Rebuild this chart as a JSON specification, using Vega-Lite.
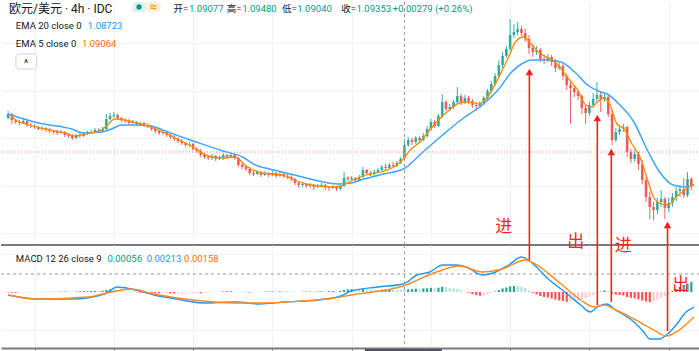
{
"$schema": "https://vega.github.io/schema/vega-lite/v6.json",
"padding": 0,
"background": "white",
"spacing": 0,
"bounds": "flush",
"config": {"view": {"stroke": null}, "font": "Roboto, Noto Sans CJK SC"},
"datasets": {
"bars": [
{"i":0,"o":1.09924,"h":1.10071,"l":1.09903,"c":1.10008,"m":-0.00013,"k":"r"},
{"i":1,"o":1.10008,"h":1.10029,"l":1.09798,"c":1.09882,"m":-0.00018,"k":"r"},
{"i":2,"o":1.09882,"h":1.09903,"l":1.09798,"c":1.0984,"m":-0.00021,"k":"r"},
{"i":3,"o":1.0984,"h":1.09882,"l":1.09777,"c":1.09819,"m":-0.00021,"k":"rl"},
{"i":4,"o":1.09819,"h":1.09903,"l":1.09798,"c":1.09861,"m":-0.00018,"k":"rl"},
{"i":5,"o":1.09861,"h":1.09882,"l":1.09735,"c":1.09777,"m":-0.00016,"k":"rl"},
{"i":6,"o":1.09777,"h":1.09819,"l":1.09714,"c":1.09756,"m":-0.00013,"k":"rl"},
{"i":7,"o":1.09756,"h":1.09798,"l":1.09693,"c":1.09735,"m":-0.00011,"k":"rl"},
{"i":8,"o":1.09735,"h":1.09756,"l":1.09672,"c":1.09693,"m":-0.00005,"k":"rl"},
{"i":9,"o":1.09693,"h":1.09756,"l":1.09651,"c":1.09714,"m":0.00005,"k":"g"},
{"i":10,"o":1.09714,"h":1.09735,"l":1.0963,"c":1.09672,"m":0.00008,"k":"g"},
{"i":11,"o":1.09672,"h":1.09714,"l":1.09609,"c":1.09651,"m":0.00008,"k":"gl"},
{"i":12,"o":1.09651,"h":1.09672,"l":1.09588,"c":1.0963,"m":0.00011,"k":"g"},
{"i":13,"o":1.0963,"h":1.09672,"l":1.09567,"c":1.09609,"m":0.00008,"k":"gl"},
{"i":14,"o":1.09609,"h":1.09672,"l":1.09588,"c":1.0963,"m":0.00011,"k":"g"},
{"i":15,"o":1.0963,"h":1.09651,"l":1.09525,"c":1.09567,"m":0.00013,"k":"g"},
{"i":16,"o":1.09567,"h":1.09609,"l":1.09504,"c":1.09546,"m":0.00013,"k":"gl"},
{"i":17,"o":1.09546,"h":1.09588,"l":1.09462,"c":1.09504,"m":0.00008,"k":"gl"},
{"i":18,"o":1.09504,"h":1.09588,"l":1.09483,"c":1.09567,"m":0.00013,"k":"g"},
{"i":19,"o":1.09567,"h":1.09609,"l":1.09504,"c":1.09546,"m":0.00018,"k":"g"},
{"i":20,"o":1.09546,"h":1.0963,"l":1.09525,"c":1.09588,"m":0.00021,"k":"g"},
{"i":21,"o":1.09588,"h":1.09651,"l":1.09567,"c":1.09609,"m":0.00024,"k":"g"},
{"i":22,"o":1.09609,"h":1.09672,"l":1.09588,"c":1.0963,"m":0.00026,"k":"g"},
{"i":23,"o":1.0963,"h":1.09714,"l":1.09609,"c":1.09672,"m":0.00029,"k":"g"},
{"i":24,"o":1.09672,"h":1.09714,"l":1.09609,"c":1.09651,"m":0.00029,"k":"gl"},
{"i":25,"o":1.09651,"h":1.09735,"l":1.0963,"c":1.09693,"m":0.00032,"k":"g"},
{"i":26,"o":1.09693,"h":1.10008,"l":1.09672,"c":1.09903,"m":0.00058,"k":"g"},
{"i":27,"o":1.09903,"h":1.10029,"l":1.09882,"c":1.09966,"m":0.00068,"k":"g"},
{"i":28,"o":1.09966,"h":1.1005,"l":1.09924,"c":1.09987,"m":0.00066,"k":"gl"},
{"i":29,"o":1.09987,"h":1.10008,"l":1.09882,"c":1.09924,"m":0.00053,"k":"gl"},
{"i":30,"o":1.09924,"h":1.09945,"l":1.0984,"c":1.09882,"m":0.00037,"k":"gl"},
{"i":31,"o":1.09882,"h":1.09924,"l":1.09819,"c":1.09861,"m":0.00024,"k":"gl"},
{"i":32,"o":1.09861,"h":1.09903,"l":1.09777,"c":1.09819,"m":0.00011,"k":"gl"},
{"i":33,"o":1.09819,"h":1.09882,"l":1.09798,"c":1.0984,"m":0.00003,"k":"gl"},
{"i":34,"o":1.0984,"h":1.09861,"l":1.09756,"c":1.09798,"m":-0.00011,"k":"r"},
{"i":35,"o":1.09798,"h":1.0984,"l":1.09756,"c":1.09819,"m":-0.00018,"k":"r"},
{"i":36,"o":1.09819,"h":1.0984,"l":1.09735,"c":1.09777,"m":-0.00024,"k":"r"},
{"i":37,"o":1.09777,"h":1.09819,"l":1.09714,"c":1.09756,"m":-0.00026,"k":"r"},
{"i":38,"o":1.09756,"h":1.09777,"l":1.09651,"c":1.09693,"m":-0.00032,"k":"r"},
{"i":39,"o":1.09693,"h":1.09735,"l":1.09609,"c":1.09651,"m":-0.00034,"k":"r"},
{"i":40,"o":1.09651,"h":1.09672,"l":1.09567,"c":1.09609,"m":-0.00037,"k":"r"},
{"i":41,"o":1.09609,"h":1.09672,"l":1.09567,"c":1.0963,"m":-0.00034,"k":"rl"},
{"i":42,"o":1.0963,"h":1.09651,"l":1.09525,"c":1.09567,"m":-0.00034,"k":"rl"},
{"i":43,"o":1.09567,"h":1.09588,"l":1.09483,"c":1.09525,"m":-0.00037,"k":"r"},
{"i":44,"o":1.09525,"h":1.09567,"l":1.09441,"c":1.09483,"m":-0.00039,"k":"r"},
{"i":45,"o":1.09483,"h":1.09525,"l":1.09399,"c":1.09441,"m":-0.00039,"k":"rl"},
{"i":46,"o":1.09441,"h":1.09483,"l":1.09357,"c":1.09399,"m":-0.00037,"k":"rl"},
{"i":47,"o":1.09399,"h":1.0942,"l":1.09315,"c":1.09357,"m":-0.00034,"k":"rl"},
{"i":48,"o":1.09357,"h":1.0942,"l":1.09315,"c":1.09378,"m":-0.00032,"k":"rl"},
{"i":49,"o":1.09378,"h":1.09399,"l":1.09231,"c":1.09273,"m":-0.00032,"k":"rl"},
{"i":50,"o":1.09273,"h":1.09315,"l":1.09189,"c":1.09231,"m":-0.00029,"k":"rl"},
{"i":51,"o":1.09231,"h":1.09273,"l":1.09105,"c":1.09147,"m":-0.00032,"k":"r"},
{"i":52,"o":1.09147,"h":1.09189,"l":1.09063,"c":1.09105,"m":-0.00029,"k":"rl"},
{"i":53,"o":1.09105,"h":1.09147,"l":1.09042,"c":1.09084,"m":-0.00024,"k":"rl"},
{"i":54,"o":1.09084,"h":1.09168,"l":1.09042,"c":1.09126,"m":-0.00016,"k":"rl"},
{"i":55,"o":1.09126,"h":1.09147,"l":1.09021,"c":1.09063,"m":-0.00011,"k":"rl"},
{"i":56,"o":1.09063,"h":1.09126,"l":1.09042,"c":1.09084,"m":0.00005,"k":"g"},
{"i":57,"o":1.09084,"h":1.09189,"l":1.09042,"c":1.09147,"m":0.00013,"k":"g"},
{"i":58,"o":1.09147,"h":1.09168,"l":1.09063,"c":1.09105,"m":0.00018,"k":"g"},
{"i":59,"o":1.09105,"h":1.09189,"l":1.09084,"c":1.09147,"m":0.00021,"k":"g"},
{"i":60,"o":1.09147,"h":1.09168,"l":1.09042,"c":1.09084,"m":0.00018,"k":"gl"},
{"i":61,"o":1.09084,"h":1.09105,"l":1.08895,"c":1.08937,"m":0.00005,"k":"gl"},
{"i":62,"o":1.08937,"h":1.08979,"l":1.08853,"c":1.08895,"m":-0.00003,"k":"r"},
{"i":63,"o":1.08895,"h":1.08937,"l":1.08811,"c":1.08853,"m":-0.00008,"k":"r"},
{"i":64,"o":1.08853,"h":1.08895,"l":1.08727,"c":1.08769,"m":-0.00013,"k":"r"},
{"i":65,"o":1.08769,"h":1.08811,"l":1.08706,"c":1.08748,"m":-0.00011,"k":"rl"},
{"i":66,"o":1.08748,"h":1.08832,"l":1.08727,"c":1.0879,"m":-0.00005,"k":"rl"},
{"i":67,"o":1.0879,"h":1.08811,"l":1.08685,"c":1.08727,"m":0.00005,"k":"g"},
{"i":68,"o":1.08727,"h":1.08811,"l":1.08706,"c":1.08769,"m":0.00011,"k":"g"},
{"i":69,"o":1.08769,"h":1.0879,"l":1.08685,"c":1.08727,"m":0.00013,"k":"g"},
{"i":70,"o":1.08727,"h":1.08811,"l":1.08706,"c":1.08769,"m":0.00016,"k":"g"},
{"i":71,"o":1.08769,"h":1.0879,"l":1.08664,"c":1.08706,"m":0.00016,"k":"gl"},
{"i":72,"o":1.08706,"h":1.0879,"l":1.08685,"c":1.08748,"m":0.00018,"k":"g"},
{"i":73,"o":1.08748,"h":1.08769,"l":1.08664,"c":1.08706,"m":0.00018,"k":"gl"},
{"i":74,"o":1.08706,"h":1.08748,"l":1.08643,"c":1.08685,"m":0.00016,"k":"gl"},
{"i":75,"o":1.08685,"h":1.08727,"l":1.08601,"c":1.08643,"m":0.00013,"k":"gl"},
{"i":76,"o":1.08643,"h":1.08664,"l":1.08517,"c":1.08559,"m":0.00005,"k":"gl"},
{"i":77,"o":1.08559,"h":1.08601,"l":1.08454,"c":1.08517,"m":0.00005,"k":"gl"},
{"i":78,"o":1.08517,"h":1.0858,"l":1.08475,"c":1.08538,"m":0.00008,"k":"g"},
{"i":79,"o":1.08538,"h":1.08559,"l":1.08454,"c":1.08496,"m":0.00011,"k":"g"},
{"i":80,"o":1.08496,"h":1.08559,"l":1.08454,"c":1.08517,"m":0.00013,"k":"g"},
{"i":81,"o":1.08517,"h":1.08538,"l":1.08412,"c":1.08475,"m":0.00013,"k":"gl"},
{"i":82,"o":1.08475,"h":1.08538,"l":1.08454,"c":1.08496,"m":0.00016,"k":"g"},
{"i":83,"o":1.08496,"h":1.08559,"l":1.08475,"c":1.08517,"m":0.00018,"k":"g"},
{"i":84,"o":1.08517,"h":1.08538,"l":1.08412,"c":1.08475,"m":0.00018,"k":"gl"},
{"i":85,"o":1.08475,"h":1.08496,"l":1.08391,"c":1.08454,"m":0.00021,"k":"g"},
{"i":86,"o":1.08454,"h":1.08517,"l":1.08433,"c":1.08475,"m":0.00024,"k":"g"},
{"i":87,"o":1.08475,"h":1.08496,"l":1.08391,"c":1.08433,"m":0.00024,"k":"gl"},
{"i":88,"o":1.08433,"h":1.08517,"l":1.08412,"c":1.08496,"m":0.00026,"k":"g"},
{"i":89,"o":1.08496,"h":1.0879,"l":1.08475,"c":1.08664,"m":0.00058,"k":"g"},
{"i":90,"o":1.08664,"h":1.08706,"l":1.08601,"c":1.08643,"m":0.00068,"k":"g"},
{"i":91,"o":1.08643,"h":1.08706,"l":1.08601,"c":1.08664,"m":0.00074,"k":"g"},
{"i":92,"o":1.08664,"h":1.08685,"l":1.0858,"c":1.08622,"m":0.00071,"k":"gl"},
{"i":93,"o":1.08622,"h":1.08727,"l":1.08601,"c":1.08685,"m":0.00066,"k":"gl"},
{"i":94,"o":1.08685,"h":1.08895,"l":1.08664,"c":1.08832,"m":0.00076,"k":"g"},
{"i":95,"o":1.08832,"h":1.08853,"l":1.08727,"c":1.08769,"m":0.00068,"k":"gl"},
{"i":96,"o":1.08769,"h":1.08811,"l":1.08706,"c":1.08748,"m":0.0006,"k":"gl"},
{"i":97,"o":1.08748,"h":1.08832,"l":1.08706,"c":1.0879,"m":0.00053,"k":"gl"},
{"i":98,"o":1.0879,"h":1.08874,"l":1.08769,"c":1.08832,"m":0.00053,"k":"gl"},
{"i":99,"o":1.08832,"h":1.08937,"l":1.08811,"c":1.08895,"m":0.00058,"k":"g"},
{"i":100,"o":1.08895,"h":1.08958,"l":1.08832,"c":1.08874,"m":0.0006,"k":"g"},
{"i":101,"o":1.08874,"h":1.08979,"l":1.08853,"c":1.08937,"m":0.00063,"k":"g"},
{"i":102,"o":1.08937,"h":1.09,"l":1.08874,"c":1.08916,"m":0.00063,"k":"gl"},
{"i":103,"o":1.08916,"h":1.09021,"l":1.08895,"c":1.08979,"m":0.0006,"k":"gl"},
{"i":104,"o":1.08979,"h":1.09105,"l":1.08958,"c":1.09063,"m":0.00058,"k":"gl"},
{"i":105,"o":1.09077,"h":1.0948,"l":1.0904,"c":1.09353,"m":0.00056,"k":"gl"},
{"i":106,"o":1.09357,"h":1.09525,"l":1.09315,"c":1.09462,"m":0.00071,"k":"g"},
{"i":107,"o":1.09462,"h":1.09504,"l":1.09357,"c":1.0942,"m":0.00076,"k":"g"},
{"i":108,"o":1.0942,"h":1.09546,"l":1.09378,"c":1.09504,"m":0.00087,"k":"g"},
{"i":109,"o":1.09504,"h":1.09546,"l":1.09399,"c":1.09462,"m":0.00084,"k":"gl"},
{"i":110,"o":1.09462,"h":1.09609,"l":1.09441,"c":1.09546,"m":0.00092,"k":"g"},
{"i":111,"o":1.09546,"h":1.09756,"l":1.09504,"c":1.09693,"m":0.00095,"k":"g"},
{"i":112,"o":1.09693,"h":1.09903,"l":1.09651,"c":1.0984,"m":0.0011,"k":"g"},
{"i":113,"o":1.0984,"h":1.09882,"l":1.09714,"c":1.09756,"m":0.001,"k":"gl"},
{"i":114,"o":1.09756,"h":1.10008,"l":1.09735,"c":1.09966,"m":0.00113,"k":"g"},
{"i":115,"o":1.09966,"h":1.10428,"l":1.09924,"c":1.1026,"m":0.00137,"k":"g"},
{"i":116,"o":1.1026,"h":1.10302,"l":1.10071,"c":1.10113,"m":0.00121,"k":"gl"},
{"i":117,"o":1.10113,"h":1.10218,"l":1.10071,"c":1.10155,"m":0.00105,"k":"gl"},
{"i":118,"o":1.10155,"h":1.10302,"l":1.10113,"c":1.1026,"m":0.00095,"k":"gl"},
{"i":119,"o":1.1026,"h":1.10575,"l":1.10218,"c":1.10386,"m":0.00084,"k":"gl"},
{"i":120,"o":1.10386,"h":1.10428,"l":1.10197,"c":1.1026,"m":0.00047,"k":"gl"},
{"i":121,"o":1.1026,"h":1.10407,"l":1.10218,"c":1.10344,"m":0.00011,"k":"gl"},
{"i":122,"o":1.10344,"h":1.10386,"l":1.10218,"c":1.10281,"m":-0.00021,"k":"r"},
{"i":123,"o":1.10281,"h":1.10323,"l":1.10134,"c":1.10197,"m":-0.00053,"k":"r"},
{"i":124,"o":1.10197,"h":1.1026,"l":1.10071,"c":1.10176,"m":-0.00084,"k":"r"},
{"i":125,"o":1.10176,"h":1.10281,"l":1.10134,"c":1.10239,"m":-0.001,"k":"r"},
{"i":126,"o":1.10239,"h":1.10386,"l":1.10197,"c":1.10344,"m":-0.00092,"k":"rl"},
{"i":127,"o":1.10344,"h":1.10533,"l":1.10302,"c":1.10491,"m":-0.00066,"k":"rl"},
{"i":128,"o":1.10491,"h":1.10701,"l":1.10449,"c":1.10638,"m":-0.00026,"k":"rl"},
{"i":129,"o":1.10638,"h":1.10869,"l":1.10596,"c":1.10806,"m":0.00013,"k":"g"},
{"i":130,"o":1.10806,"h":1.11142,"l":1.10764,"c":1.11037,"m":0.00053,"k":"g"},
{"i":131,"o":1.11037,"h":1.1131,"l":1.10974,"c":1.11226,"m":0.00092,"k":"g"},
{"i":132,"o":1.11226,"h":1.11436,"l":1.11184,"c":1.11373,"m":0.00118,"k":"g"},
{"i":133,"o":1.11373,"h":1.12003,"l":1.11331,"c":1.11667,"m":0.00145,"k":"g"},
{"i":134,"o":1.11667,"h":1.11898,"l":1.11604,"c":1.1173,"m":0.00158,"k":"g"},
{"i":135,"o":1.1173,"h":1.1194,"l":1.11667,"c":1.11793,"m":0.00153,"k":"gl"},
{"i":136,"o":1.11793,"h":1.11856,"l":1.11646,"c":1.11709,"m":0.00137,"k":"gl"},
{"i":137,"o":1.11709,"h":1.11793,"l":1.1152,"c":1.11583,"m":0.00105,"k":"gl"},
{"i":138,"o":1.11583,"h":1.11667,"l":1.11268,"c":1.11394,"m":0.00039,"k":"gl"},
{"i":139,"o":1.11394,"h":1.11478,"l":1.11205,"c":1.1131,"m":-0.00021,"k":"r"},
{"i":140,"o":1.1131,"h":1.11436,"l":1.11247,"c":1.11352,"m":-0.00066,"k":"r"},
{"i":141,"o":1.11352,"h":1.11394,"l":1.111,"c":1.11163,"m":-0.00105,"k":"r"},
{"i":142,"o":1.11163,"h":1.11247,"l":1.11058,"c":1.11142,"m":-0.00132,"k":"r"},
{"i":143,"o":1.11142,"h":1.11268,"l":1.111,"c":1.11205,"m":-0.00145,"k":"r"},
{"i":144,"o":1.11205,"h":1.11247,"l":1.11016,"c":1.111,"m":-0.00171,"k":"r"},
{"i":145,"o":1.111,"h":1.11163,"l":1.1089,"c":1.10974,"m":-0.00197,"k":"r"},
{"i":146,"o":1.10974,"h":1.111,"l":1.10932,"c":1.11016,"m":-0.00224,"k":"r"},
{"i":147,"o":1.11016,"h":1.11058,"l":1.10722,"c":1.10806,"m":-0.00237,"k":"r"},
{"i":148,"o":1.10806,"h":1.10848,"l":1.10512,"c":1.10617,"m":-0.00258,"k":"r"},
{"i":149,"o":1.10617,"h":1.1068,"l":1.09798,"c":1.10554,"m":-0.0025,"k":"rl"},
{"i":150,"o":1.10554,"h":1.10596,"l":1.10365,"c":1.1047,"m":-0.00237,"k":"rl"},
{"i":151,"o":1.1047,"h":1.10512,"l":1.10302,"c":1.10386,"m":-0.0021,"k":"rl"},
{"i":152,"o":1.10386,"h":1.10428,"l":1.10008,"c":1.10134,"m":-0.00184,"k":"rl"},
{"i":153,"o":1.10134,"h":1.10197,"l":1.09798,"c":1.10029,"m":-0.00171,"k":"rl"},
{"i":154,"o":1.10029,"h":1.1026,"l":1.09966,"c":1.10197,"m":-0.00132,"k":"rl"},
{"i":155,"o":1.10197,"h":1.10449,"l":1.10134,"c":1.10323,"m":-0.00092,"k":"rl"},
{"i":156,"o":1.10323,"h":1.1068,"l":1.1026,"c":1.10407,"m":-0.00047,"k":"rl"},
{"i":157,"o":1.10407,"h":1.1047,"l":1.1005,"c":1.10323,"m":0.00013,"k":"g"},
{"i":158,"o":1.10323,"h":1.10428,"l":1.1026,"c":1.10365,"m":0.00039,"k":"g"},
{"i":159,"o":1.10365,"h":1.10407,"l":1.09945,"c":1.10008,"m":0.00026,"k":"gl"},
{"i":160,"o":1.10008,"h":1.10092,"l":1.09357,"c":1.09462,"m":-0.00039,"k":"r"},
{"i":161,"o":1.09462,"h":1.09714,"l":1.0942,"c":1.0963,"m":-0.00066,"k":"r"},
{"i":162,"o":1.0963,"h":1.09756,"l":1.09567,"c":1.09693,"m":-0.00079,"k":"r"},
{"i":163,"o":1.09693,"h":1.09798,"l":1.0963,"c":1.09735,"m":-0.00092,"k":"r"},
{"i":164,"o":1.09735,"h":1.09756,"l":1.09105,"c":1.0921,"m":-0.00132,"k":"r"},
{"i":165,"o":1.0921,"h":1.09273,"l":1.08979,"c":1.09063,"m":-0.00153,"k":"r"},
{"i":166,"o":1.09063,"h":1.09252,"l":1.09,"c":1.09168,"m":-0.00171,"k":"r"},
{"i":167,"o":1.09168,"h":1.0921,"l":1.08832,"c":1.08958,"m":-0.00197,"k":"r"},
{"i":168,"o":1.08958,"h":1.09042,"l":1.08538,"c":1.08622,"m":-0.00224,"k":"r"},
{"i":169,"o":1.08622,"h":1.08685,"l":1.0816,"c":1.08265,"m":-0.0025,"k":"r"},
{"i":170,"o":1.08265,"h":1.0837,"l":1.07803,"c":1.08055,"m":-0.00263,"k":"r"},
{"i":171,"o":1.08055,"h":1.0816,"l":1.07782,"c":1.07992,"m":-0.00242,"k":"rl"},
{"i":172,"o":1.07992,"h":1.08244,"l":1.07908,"c":1.0816,"m":-0.0021,"k":"rl"},
{"i":173,"o":1.0816,"h":1.08412,"l":1.08055,"c":1.08223,"m":-0.00158,"k":"rl"},
{"i":174,"o":1.08223,"h":1.08265,"l":1.07803,"c":1.08034,"m":-0.00105,"k":"rl"},
{"i":175,"o":1.08034,"h":1.08244,"l":1.0795,"c":1.08139,"m":-0.00053,"k":"rl"},
{"i":176,"o":1.08139,"h":1.08349,"l":1.08055,"c":1.08265,"m":0.00026,"k":"g"},
{"i":177,"o":1.08265,"h":1.08475,"l":1.08181,"c":1.08391,"m":0.00079,"k":"g"},
{"i":178,"o":1.08391,"h":1.08517,"l":1.08265,"c":1.08433,"m":0.00132,"k":"g"},
{"i":179,"o":1.08433,"h":1.08664,"l":1.08244,"c":1.08307,"m":0.00184,"k":"g"},
{"i":180,"o":1.08307,"h":1.0879,"l":1.08265,"c":1.08643,"m":0.00224,"k":"g"},
{"i":181,"o":1.08643,"h":1.08685,"l":1.08412,"c":1.08517,"m":0.00263,"k":"g"}
],
"ema20": [
{"i":0,"p":1.10008},{"i":8,"p":1.09819},{"i":16.9,"p":1.09693},{"i":19.8,"p":1.09609},{"i":24.8,"p":1.0963},{"i":27.4,"p":1.09693},{"i":30,"p":1.09777},{"i":34.2,"p":1.09777},{"i":37.8,"p":1.09756},{"i":43,"p":1.09609},{"i":49.8,"p":1.0942},{"i":56.9,"p":1.09231},{"i":62.1,"p":1.09105},{"i":65.5,"p":1.08937},{"i":69.2,"p":1.08853},{"i":75.9,"p":1.08727},{"i":82.2,"p":1.08601},{"i":87.4,"p":1.08538},{"i":90.8,"p":1.08559},{"i":93.4,"p":1.08622},{"i":99.4,"p":1.08748},{"i":104.7,"p":1.08853},{"i":109.9,"p":1.0921},{"i":115.1,"p":1.09567},{"i":120.3,"p":1.09903},{"i":125.6,"p":1.10197},{"i":130,"p":1.10533},{"i":133.4,"p":1.1089},{"i":136,"p":1.11058},{"i":138.6,"p":1.11142},{"i":143.1,"p":1.11142},{"i":146.5,"p":1.111},{"i":150.1,"p":1.1089},{"i":153.5,"p":1.10617},{"i":157,"p":1.1047},{"i":158.7,"p":1.10428},{"i":162.1,"p":1.10197},{"i":165.8,"p":1.0984},{"i":169.2,"p":1.09273},{"i":172.6,"p":1.0879},{"i":176.2,"p":1.08517},{"i":179.6,"p":1.08475},{"i":181.7,"p":1.08517}
],
"ema5": [
{"i":0.7,"p":1.09987},{"i":2,"p":1.09882},{"i":4.65,"p":1.09798},{"i":9.9,"p":1.09693},{"i":15.1,"p":1.09609},{"i":17.7,"p":1.09546},{"i":20.3,"p":1.09588},{"i":24.2,"p":1.09651},{"i":26.3,"p":1.09777},{"i":28.2,"p":1.09903},{"i":30.8,"p":1.09882},{"i":34.2,"p":1.09819},{"i":38.6,"p":1.09714},{"i":43.8,"p":1.09525},{"i":49,"p":1.09315},{"i":53,"p":1.09126},{"i":56.9,"p":1.09084},{"i":60,"p":1.09105},{"i":63.4,"p":1.08895},{"i":67.3,"p":1.08769},{"i":72.6,"p":1.08727},{"i":76.5,"p":1.08601},{"i":80.4,"p":1.08517},{"i":85.6,"p":1.08475},{"i":88.2,"p":1.08496},{"i":90.8,"p":1.08601},{"i":94.8,"p":1.08727},{"i":98.7,"p":1.0879},{"i":102.6,"p":1.08916},{"i":104.7,"p":1.09063},{"i":106.5,"p":1.09252},{"i":109.1,"p":1.0942},{"i":111.7,"p":1.09672},{"i":114.3,"p":1.09903},{"i":116.9,"p":1.10092},{"i":119.6,"p":1.10239},{"i":122.2,"p":1.1026},{"i":124.8,"p":1.10218},{"i":127.4,"p":1.10407},{"i":130,"p":1.10785},{"i":132.6,"p":1.11205},{"i":134.4,"p":1.1152},{"i":136.5,"p":1.11625},{"i":138.6,"p":1.11478},{"i":140.5,"p":1.1131},{"i":143.1,"p":1.11184},{"i":145.7,"p":1.11037},{"i":148.3,"p":1.10764},{"i":150.9,"p":1.10512},{"i":153,"p":1.10197},{"i":154.8,"p":1.10155},{"i":156.1,"p":1.1026},{"i":157.9,"p":1.10344},{"i":159.5,"p":1.10197},{"i":161.3,"p":1.09798},{"i":163.2,"p":1.09693},{"i":165.3,"p":1.09378},{"i":167.4,"p":1.09105},{"i":169.2,"p":1.08685},{"i":171,"p":1.08265},{"i":173.1,"p":1.08118},{"i":174.9,"p":1.08097},{"i":177,"p":1.08265},{"i":179.6,"p":1.08433},{"i":181.7,"p":1.08538}
],
"macd": [
{"i":0,"v":-0.00079},{"i":7.3,"v":-0.00184},{"i":16.9,"v":-0.00184},{"i":25.5,"v":-0.00053},{"i":28.9,"v":0.00132},{"i":32.6,"v":0.00079},{"i":38.6,"v":-0.00079},{"i":44.6,"v":-0.00184},{"i":51.7,"v":-0.00289},{"i":60.3,"v":-0.00263},{"i":66.5,"v":-0.00316},{"i":73.3,"v":-0.00263},{"i":82.2,"v":-0.0021},{"i":88.2,"v":-0.00105},{"i":90.8,"v":0.00026},{"i":97.9,"v":0.00132},{"i":104.7,"v":0.0021},{"i":108.3,"v":0.00447},{"i":111.7,"v":0.00526},{"i":115.1,"v":0.0071},{"i":118.8,"v":0.0071},{"i":121.4,"v":0.00658},{"i":125.6,"v":0.00447},{"i":129.2,"v":0.00526},{"i":132.6,"v":0.0071},{"i":136,"v":0.00921},{"i":137.8,"v":0.00842},{"i":140.5,"v":0.00605},{"i":143.1,"v":0.00342},{"i":146.5,"v":0.00079},{"i":149.1,"v":-0.00132},{"i":151.7,"v":-0.00342},{"i":154.3,"v":-0.00526},{"i":156.1,"v":-0.00395},{"i":158.7,"v":-0.00316},{"i":160.5,"v":-0.00447},{"i":163.2,"v":-0.00605},{"i":165.8,"v":-0.00789},{"i":168.4,"v":-0.01052},{"i":170,"v":-0.01236},{"i":172.6,"v":-0.01236},{"i":174.4,"v":-0.01131},{"i":177,"v":-0.00868},{"i":179.6,"v":-0.00526},{"i":181.7,"v":-0.00395}
],
"sig": [
{"i":0,"v":-0.00079},{"i":8,"v":-0.00184},{"i":21.1,"v":-0.00132},{"i":27.4,"v":0},{"i":32.6,"v":0.00079},{"i":38.6,"v":-0.00053},{"i":49,"v":-0.0021},{"i":60.3,"v":-0.00289},{"i":67.3,"v":-0.00289},{"i":77.8,"v":-0.00237},{"i":86.4,"v":-0.00158},{"i":90.8,"v":-0.00079},{"i":104.7,"v":0.00158},{"i":113.5,"v":0.00526},{"i":119.6,"v":0.00684},{"i":125.6,"v":0.00526},{"i":130.8,"v":0.00605},{"i":137.1,"v":0.00842},{"i":139.7,"v":0.00736},{"i":146.5,"v":0.0021},{"i":151.7,"v":-0.0021},{"i":155.3,"v":-0.00395},{"i":157.9,"v":-0.00342},{"i":160.5,"v":-0.00447},{"i":165.8,"v":-0.0071},{"i":171,"v":-0.00999},{"i":174.4,"v":-0.01157},{"i":177.8,"v":-0.00999},{"i":181.7,"v":-0.00658}
]
},
"vconcat": [
{
"width": 699, "height": 243,
"layer": [
{"data": {"name": "bars"}, "mark": {"type": "rule", "strokeWidth": 1, "opacity": 0.9},
 "encoding": {
  "x": {"field": "i", "type": "quantitative", "scale": {"domain": [-0.574, 181.98], "nice": false, "zero": false}, "axis": {"title": null, "values": [7,28,49,70,91,112,133,154,175], "grid": true, "gridColor": "#EEF1F6", "domain": false, "ticks": false, "labels": false}},
  "y": {"field": "l", "type": "quantitative", "scale": {"domain": [1.07257, 1.1236], "nice": false, "zero": false}, "axis": {"title": null, "values": [1.075,1.08,1.085,1.09,1.095,1.1,1.105,1.11,1.115,1.12], "grid": true, "gridColor": "#EEF1F6", "domain": false, "ticks": false, "labels": false}},
  "y2": {"field": "h"},
  "color": {"condition": {"test": "datum.c >= datum.o", "value": "#26A69A"}, "value": "#EF5350"}
 }},
{"data": {"name": "bars"}, "mark": {"type": "bar", "size": 2.6, "opacity": 0.9},
 "encoding": {
  "x": {"field": "i", "type": "quantitative"},
  "y": {"field": "o", "type": "quantitative"},
  "y2": {"field": "c"},
  "color": {"condition": {"test": "datum.c >= datum.o", "value": "#26A69A"}, "value": "#EF5350"}
 }},
{"data": {"values": [{}]}, "mark": {"type": "rule", "color": "#F7525F", "strokeDash": [1, 2], "strokeWidth": 1, "opacity": 0.8},
 "encoding": {"y": {"datum": 1.0921, "type": "quantitative"}}},
{"data": {"values": [{}]}, "mark": {"type": "rule", "color": "#9598A1", "strokeDash": [3, 3], "strokeWidth": 1},
 "encoding": {"x": {"datum": 105, "type": "quantitative"}}},
{"data": {"name": "ema20"}, "mark": {"type": "line", "color": "#42A5F5", "strokeWidth": 1.5, "interpolate": "monotone"},
 "encoding": {"x": {"field": "i", "type": "quantitative"}, "y": {"field": "p", "type": "quantitative"}}},
{"data": {"name": "ema5"}, "mark": {"type": "line", "color": "#FB8C00", "strokeWidth": 1.3, "interpolate": "monotone"},
 "encoding": {"x": {"field": "i", "type": "quantitative"}, "y": {"field": "p", "type": "quantitative"}}},
{"data": {"values": [{}]}, "mark": {"type": "rule", "color": "#787B86", "strokeWidth": 2},
 "encoding": {"y": {"datum": 1.07257, "type": "quantitative"}}},
{"data": {"values": [{"i":138.1,"p1":1.07257,"p2":1.1089},{"i":156.1,"p1":1.07257,"p2":1.09924},{"i":159.8,"p1":1.07257,"p2":1.0921},{"i":174.7,"p1":1.07257,"p2":1.07677}]},
 "layer": [
  {"mark": {"type": "rule", "color": "#FF1E1E", "strokeWidth": 1.6},
   "encoding": {"x": {"field": "i", "type": "quantitative"}, "y": {"field": "p1", "type": "quantitative"}, "y2": {"field": "p2"}}},
  {"mark": {"type": "point", "shape": "triangle-up", "filled": true, "color": "#FF1E1E", "size": 55, "opacity": 1},
   "encoding": {"x": {"field": "i", "type": "quantitative"}, "y": {"field": "p2", "type": "quantitative"}}}
 ]},
{"data": {"values": [{"i":131.3,"p":1.07635,"t":"进"},{"i":150.4,"p":1.0732,"t":"出"},{"i":163.0,"p":1.07246,"t":"进"}]},
 "mark": {"type": "text", "font": "Noto Sans CJK SC", "fontSize": 17, "color": "#FF1E1E", "align": "center", "baseline": "middle"},
 "encoding": {"x": {"field": "i", "type": "quantitative"}, "y": {"field": "p", "type": "quantitative"}, "text": {"field": "t"}}},
{"data": {"values": [{"i1":32.86,"i2":36.51,"p1":1.1236,"p2":1.1215}]},
 "mark": {"type": "rect", "color": "#DDF1EE", "cornerRadius": 3},
 "encoding": {"x": {"field": "i1", "type": "quantitative"}, "x2": {"field": "i2"}, "y": {"field": "p1", "type": "quantitative"}, "y2": {"field": "p2"}}},
{"data": {"values": [{"i1":36.51,"i2":40.43,"p1":1.1236,"p2":1.1215}]},
 "mark": {"type": "rect", "color": "#FFF0DA", "cornerRadius": 3},
 "encoding": {"x": {"field": "i1", "type": "quantitative"}, "x2": {"field": "i2"}, "y": {"field": "p1", "type": "quantitative"}, "y2": {"field": "p2"}}},
{"data": {"values": [{"i":34.68,"p":1.12255}]},
 "mark": {"type": "point", "shape": "circle", "filled": true, "color": "#089981", "size": 28, "opacity": 1},
 "encoding": {"x": {"field": "i", "type": "quantitative"}, "y": {"field": "p", "type": "quantitative"}}},
{"data": {"values": [{"i":38.45,"p":1.12255,"t":"≈"}]},
 "mark": {"type": "text", "fontSize": 13, "fontWeight": "bold", "color": "#FF9800", "align": "center", "baseline": "middle"},
 "encoding": {"x": {"field": "i", "type": "quantitative"}, "y": {"field": "p", "type": "quantitative"}, "text": {"field": "t"}}},
{"data": {"values": [{"i1":2.04,"i2":7.52,"p1":1.11268,"p2":1.10953}]},
 "mark": {"type": "rect", "fill": "white", "stroke": "#D1D4DC", "strokeWidth": 1, "cornerRadius": 3},
 "encoding": {"x": {"field": "i1", "type": "quantitative"}, "x2": {"field": "i2"}, "y": {"field": "p1", "type": "quantitative"}, "y2": {"field": "p2"}}},
{"data": {"values": [{"i":4.78,"p":1.11058,"t":"^"}]},
 "mark": {"type": "text", "fontSize": 10, "color": "#131722", "align": "center", "baseline": "middle"},
 "encoding": {"x": {"field": "i", "type": "quantitative"}, "y": {"field": "p", "type": "quantitative"}, "text": {"field": "t"}}},
{"data": {"values": [{"i":0.21,"p":1.12129,"t":"欧元/美元 · 4h · IDC"}]},
 "mark": {"type": "text", "fontSize": 12, "color": "#131722", "align": "left", "baseline": "alphabetic"},
 "encoding": {"x": {"field": "i", "type": "quantitative"}, "y": {"field": "p", "type": "quantitative"}, "text": {"field": "t"}}},
{"data": {"values": [{"i":43.82,"p":1.1215,"t":"开="},{"i":57.93,"p":1.1215,"t":"高="},{"i":72.55,"p":1.1215,"t":"低="},{"i":88.22,"p":1.1215,"t":"收="}]},
 "mark": {"type": "text", "fontSize": 9.5, "color": "#131722", "align": "left", "baseline": "alphabetic"},
 "encoding": {"x": {"field": "i", "type": "quantitative"}, "y": {"field": "p", "type": "quantitative"}, "text": {"field": "t"}}},
{"data": {"values": [{"i":2.04,"p":1.11793,"t":"EMA 20 close 0"},{"i":2.04,"p":1.11415,"t":"EMA 5 close 0"}]},
 "mark": {"type": "text", "fontSize": 9.5, "color": "#131722", "align": "left", "baseline": "alphabetic"},
 "encoding": {"x": {"field": "i", "type": "quantitative"}, "y": {"field": "p", "type": "quantitative"}, "text": {"field": "t"}}},
{"data": {"values": [{"i":47.9,"p":1.1215,"t":"1.09077"},{"i":62.0,"p":1.1215,"t":"1.09480"},{"i":76.6,"p":1.1215,"t":"1.09040"},{"i":92.3,"p":1.1215,"t":"1.09353"},{"i":101.9,"p":1.1215,"t":"+0.00279"},{"i":113.1,"p":1.1215,"t":"(+0.26%)"}]},
 "mark": {"type": "text", "fontSize": 9.5, "color": "#089981", "align": "left", "baseline": "alphabetic"},
 "encoding": {"x": {"field": "i", "type": "quantitative"}, "y": {"field": "p", "type": "quantitative"}, "text": {"field": "t"}}},
{"data": {"values": [{"i":21.1,"p":1.11793,"t":"1.08723"}]},
 "mark": {"type": "text", "fontSize": 9.5, "color": "#2196F3", "align": "left", "baseline": "alphabetic"},
 "encoding": {"x": {"field": "i", "type": "quantitative"}, "y": {"field": "p", "type": "quantitative"}, "text": {"field": "t"}}},
{"data": {"values": [{"i":19.54,"p":1.11415,"t":"1.09064"}]},
 "mark": {"type": "text", "fontSize": 9.5, "color": "#FF6D00", "align": "left", "baseline": "alphabetic"},
 "encoding": {"x": {"field": "i", "type": "quantitative"}, "y": {"field": "p", "type": "quantitative"}, "text": {"field": "t"}}}
]
},
{
"width": 699, "height": 103,
"layer": [
{"data": {"name": "bars"}, "mark": {"type": "bar", "size": 2.2},
 "encoding": {
  "x": {"field": "i", "type": "quantitative", "scale": {"domain": [-0.574, 181.98], "nice": false, "zero": false}, "axis": {"title": null, "values": [7,28,49,70,91,112,133,154,175], "grid": true, "gridColor": "#EEF1F6", "domain": true, "domainColor": "#787B86", "domainWidth": 2, "ticks": true, "tickColor": "#9598A1", "tickSize": 5, "labels": false}},
  "y": {"field": "m", "type": "quantitative", "scale": {"domain": [-0.01473, 0.01236], "nice": false, "zero": false}, "axis": {"title": null, "values": [-0.01, 0.01], "grid": true, "gridColor": "#EEF1F6", "domain": false, "ticks": false, "labels": false}},
  "y2": {"datum": 0},
  "color": {"field": "k", "type": "nominal", "legend": null, "scale": {"domain": ["g", "gl", "r", "rl"], "range": ["#26A69A", "#B2DFDB", "#FF5252", "#FFCDD2"]}}
 }},
{"data": {"values": [{}]}, "mark": {"type": "rule", "color": "#9598A1", "strokeDash": [3, 3], "strokeWidth": 1},
 "encoding": {"x": {"datum": 105, "type": "quantitative"}}},
{"data": {"values": [{}]}, "mark": {"type": "rule", "color": "#9598A1", "strokeDash": [3, 3], "strokeWidth": 1},
 "encoding": {"y": {"datum": 0.00473, "type": "quantitative"}}},
{"data": {"name": "macd"}, "mark": {"type": "line", "color": "#2196F3", "strokeWidth": 1.4, "interpolate": "monotone"},
 "encoding": {"x": {"field": "i", "type": "quantitative"}, "y": {"field": "v", "type": "quantitative"}}},
{"data": {"name": "sig"}, "mark": {"type": "line", "color": "#FF8A1F", "strokeWidth": 1.4, "interpolate": "monotone"},
 "encoding": {"x": {"field": "i", "type": "quantitative"}, "y": {"field": "v", "type": "quantitative"}}},
{"data": {"values": [{"i":138.1,"v1":0.00842,"v2":0.01236},{"i":156.1,"v1":-0.00342,"v2":0.01236},{"i":159.8,"v1":-0.00263,"v2":0.01236},{"i":174.7,"v1":-0.01026,"v2":0.01236}]},
 "mark": {"type": "rule", "color": "#FF1E1E", "strokeWidth": 1.6},
 "encoding": {"x": {"field": "i", "type": "quantitative"}, "y": {"field": "v1", "type": "quantitative"}, "y2": {"field": "v2"}}},
{"data": {"values": [{"i":178.2,"v":0.00171,"t":"出"}]},
 "mark": {"type": "text", "font": "Noto Sans CJK SC", "fontSize": 17, "color": "#FF1E1E", "align": "center", "baseline": "middle"},
 "encoding": {"x": {"field": "i", "type": "quantitative"}, "y": {"field": "v", "type": "quantitative"}, "text": {"field": "t"}}},
{"data": {"values": [{"i":2.04,"v":0.00789,"t":"MACD 12 26 close 9"}]},
 "mark": {"type": "text", "fontSize": 9.5, "color": "#131722", "align": "left", "baseline": "alphabetic"},
 "encoding": {"x": {"field": "i", "type": "quantitative"}, "y": {"field": "v", "type": "quantitative"}, "text": {"field": "t"}}},
{"data": {"values": [{"i":26.3,"v":0.00789,"t":"0.00056"}]},
 "mark": {"type": "text", "fontSize": 9.5, "color": "#089981", "align": "left", "baseline": "alphabetic"},
 "encoding": {"x": {"field": "i", "type": "quantitative"}, "y": {"field": "v", "type": "quantitative"}, "text": {"field": "t"}}},
{"data": {"values": [{"i":36.7,"v":0.00789,"t":"0.00213"}]},
 "mark": {"type": "text", "fontSize": 9.5, "color": "#2196F3", "align": "left", "baseline": "alphabetic"},
 "encoding": {"x": {"field": "i", "type": "quantitative"}, "y": {"field": "v", "type": "quantitative"}, "text": {"field": "t"}}},
{"data": {"values": [{"i":46.6,"v":0.00789,"t":"0.00158"}]},
 "mark": {"type": "text", "fontSize": 9.5, "color": "#FF6D00", "align": "left", "baseline": "alphabetic"},
 "encoding": {"x": {"field": "i", "type": "quantitative"}, "y": {"field": "v", "type": "quantitative"}, "text": {"field": "t"}}},
{"data": {"values": [{"i1":94.5,"i2":114.9,"v1":-0.01499,"v2":-0.01604}]},
 "mark": {"type": "rect", "color": "#50535E"},
 "encoding": {"x": {"field": "i1", "type": "quantitative"}, "x2": {"field": "i2"}, "y": {"field": "v1", "type": "quantitative"}, "y2": {"field": "v2"}}}
]
}
]
}
